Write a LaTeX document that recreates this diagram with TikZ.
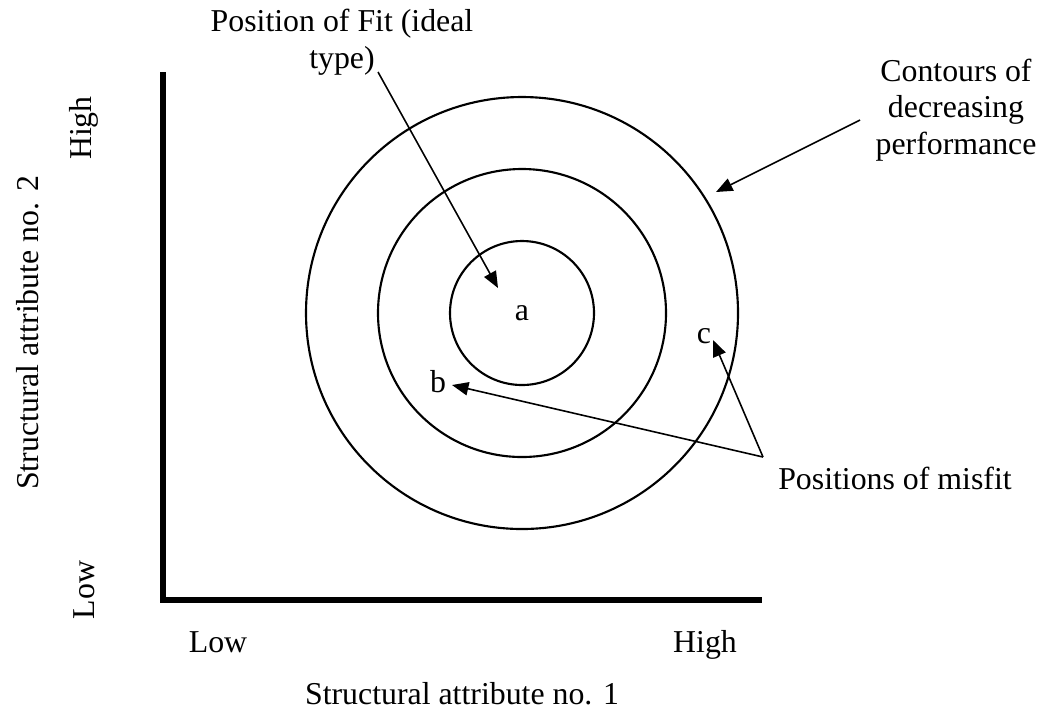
\documentclass[tikz,border=0pt]{standalone}
\usepackage{fontspec}
\setmainfont{Liberation Serif}
\usetikzlibrary{arrows.meta}

\begin{document}
\begin{tikzpicture}[x=0.377pt,y=-0.377pt,
  txt/.style={font=\fontsize{12}{13.8}\selectfont,inner sep=0pt},
  contour/.style={line width=0.8pt},
  pointer/.style={line width=0.6pt,-{Triangle[length=6.2pt,width=5pt]}},
  axis/.style={line width=2.2pt}]

\useasboundingbox (0,0) rectangle (1045,713);

% Define the centre of the contours and the corners of the axes.
\coordinate (O) at (522,313);
\coordinate (Top) at (163,72);
\coordinate (Orig) at (163,600);
\coordinate (Right) at (762,600);

% Draw the axes.
\draw[axis] (Top) -- (Orig) -- (Right);

% Draw the contours.
\foreach \r in {72,144,216}
  \draw[contour] (O) circle[radius=\r];

% Points in the plane.
\node[txt] (a) at (O) {a};
\node[txt] (b) at (438,382) {b};
\node[txt] (c) at (704,336) {c};

% Callouts.
\node[txt,align=center] (fit) at (342,42) {Position of Fit (ideal\\type)};
\node[txt,align=center] (contours) at (956,110) {Contours of\\decreasing\\performance};
\node[txt] (misfit) at (895,478) {Positions of misfit};

% Axis labels.
\node[txt,anchor=base] (xlow) at (218,652) {Low};
\node[txt,anchor=base] (xhigh) at (705,652) {High};
\node[txt,anchor=base] (xtitle) at (462,704) {Structural attribute no. 1};
\node[txt,rotate=90] (ylow) at (84,590) {Low};
\node[txt,rotate=90] (yhigh) at (84,128) {High};
\node[txt,rotate=90] (ytitle) at (28,333) {Structural attribute no. 2};

% Ends of the pointers.
\coordinate (fitTail) at (378,72);
\coordinate (fitTip) at (498,288);
\coordinate (contTail) at (860,120);
\coordinate (contTip) at (716,192);
\coordinate (misTail) at (763,457);
\coordinate (bTip) at (452,385);
\coordinate (cTip) at (713,340);

\draw[pointer] (fitTail) -- (fitTip);
\draw[pointer] (contTail) -- (contTip);
\draw[pointer] (misTail) -- (bTip);
\draw[pointer] (misTail) -- (cTip);

\end{tikzpicture}
\end{document}
